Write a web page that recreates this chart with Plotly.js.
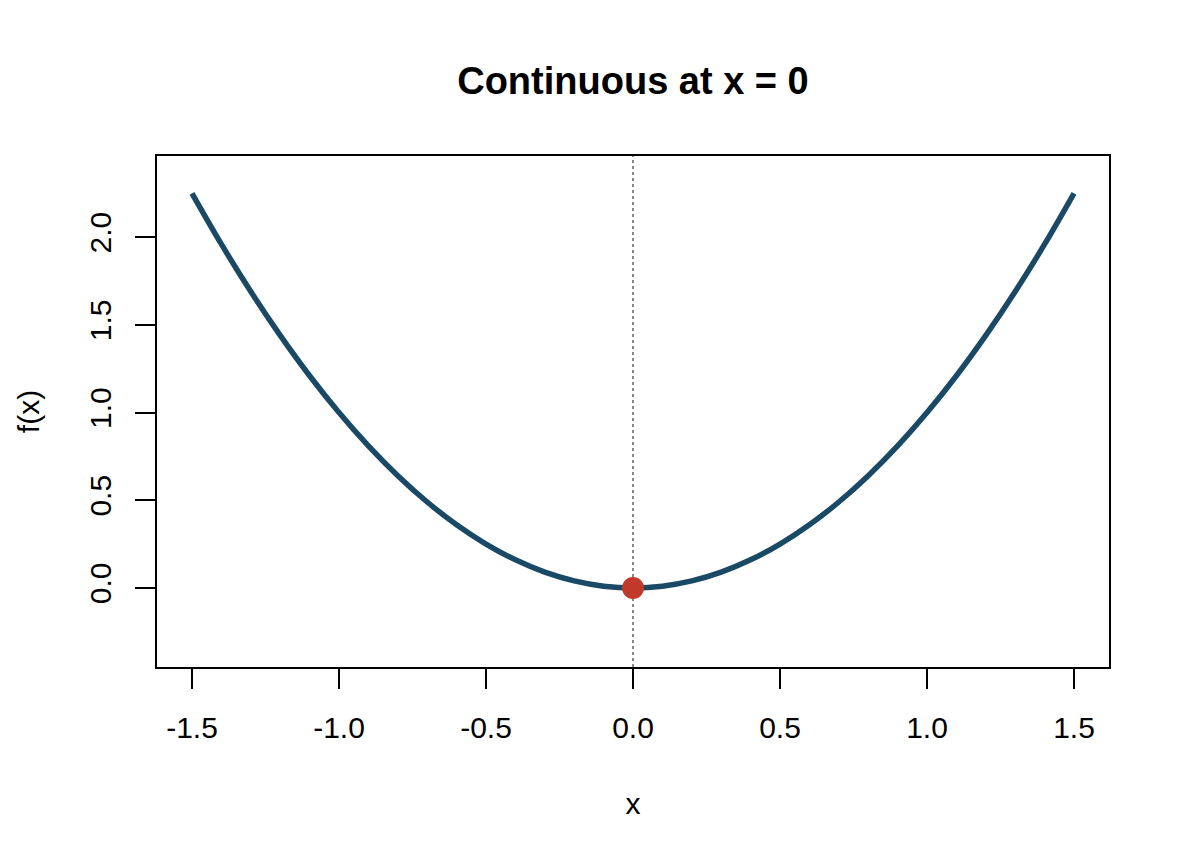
<!DOCTYPE html>
<html>
<head>
<meta charset="utf-8">
<script src="https://cdn.plot.ly/plotly-3.0.1.min.js"></script>
<style>html,body{margin:0;padding:0;background:#fff;}#chart{width:1190px;height:864px;}</style>
</head>
<body>
<div id="chart"></div>
<script>
// Curve f(x)
var xs = [-1.5,-1.4,-1.3,-1.2,-1.1,-1.0,-0.9,-0.8,-0.7,-0.6,-0.5,-0.4,-0.3,-0.2,-0.1,0.0,0.1,0.2,0.3,0.4,0.5,0.6,0.7,0.8,0.9,1.0,1.1,1.2,1.3,1.4,1.5];
var ys = [2.25,1.96,1.69,1.44,1.21,1.00,0.81,0.64,0.49,0.36,0.25,0.16,0.09,0.04,0.01,0.00,0.01,0.04,0.09,0.16,0.25,0.36,0.49,0.64,0.81,1.00,1.21,1.44,1.69,1.96,2.25];
// Highlighted point
var pointX = [0];
var pointY = [0];
// Tick values / labels
var xTickVals = [-1.5,-1.0,-0.5,0.0,0.5,1.0,1.5];
var xTickText = ["-1.5","-1.0","-0.5","0.0","0.5","1.0","1.5"];
var yTickVals = [0.0,0.5,1.0,1.5,2.0];
var yTickText = ["0.0","0.5","1.0","1.5","2.0"];

var font = "Liberation Sans, Arial, sans-serif";

var traces = [
  {x: xs, y: ys, type: "scatter", mode: "lines",
   line: {color: "#1A4966", width: 5.5, shape: "spline"}, hoverinfo: "skip"},
  {x: pointX, y: pointY, type: "scatter", mode: "markers",
   marker: {color: "#C0392B", size: 22}, hoverinfo: "skip"}
];

var layout = {
  width: 1190, height: 864,
  paper_bgcolor: "#ffffff", plot_bgcolor: "#ffffff",
  showlegend: false,
  margin: {l: 157, r: 81, t: 156, b: 197},
  title: {text: "<b>Continuous at x = 0</b>", font: {family: font, size: 38, color: "#000"},
          x: 0.5, xref: "paper", xanchor: "center", y: 1 - 81/864, yanchor: "middle", yref: "container"},
  xaxis: {
    range: [-1.619, 1.619], showgrid: false, zeroline: false,
    showline: true, linecolor: "#000", linewidth: 2, mirror: true,
    ticks: "outside", ticklen: 20, tickwidth: 2, tickcolor: "#000",
    tickvals: xTickVals, ticktext: xTickText,
    tickfont: {family: font, size: 30, color: "#000"},
    ticklabelstandoff: 13,
    title: {text: "x", font: {family: font, size: 30, color: "#000"}, standoff: 50}
  },
  yaxis: {
    range: [-0.451, 2.463], showgrid: false, zeroline: false,
    showline: true, linecolor: "#000", linewidth: 2, mirror: true,
    ticks: "outside", ticklen: 20, tickwidth: 2, tickcolor: "#000",
    tickvals: yTickVals, ticktext: yTickText, tickangle: -90,
    tickfont: {family: font, size: 30, color: "#000"},
    ticklabelstandoff: 12,
    title: {text: "f(x)", font: {family: font, size: 30, color: "#000"}, standoff: 36}
  },
  shapes: [
    {type: "line", xref: "x", yref: "paper", x0: 0, x1: 0, y0: 0, y1: 1,
     line: {color: "#888888", width: 2, dash: "dot"}, layer: "below"}
  ]
};

Plotly.newPlot("chart", traces, layout, {displayModeBar: false, staticPlot: true});
</script>
</body>
</html>
